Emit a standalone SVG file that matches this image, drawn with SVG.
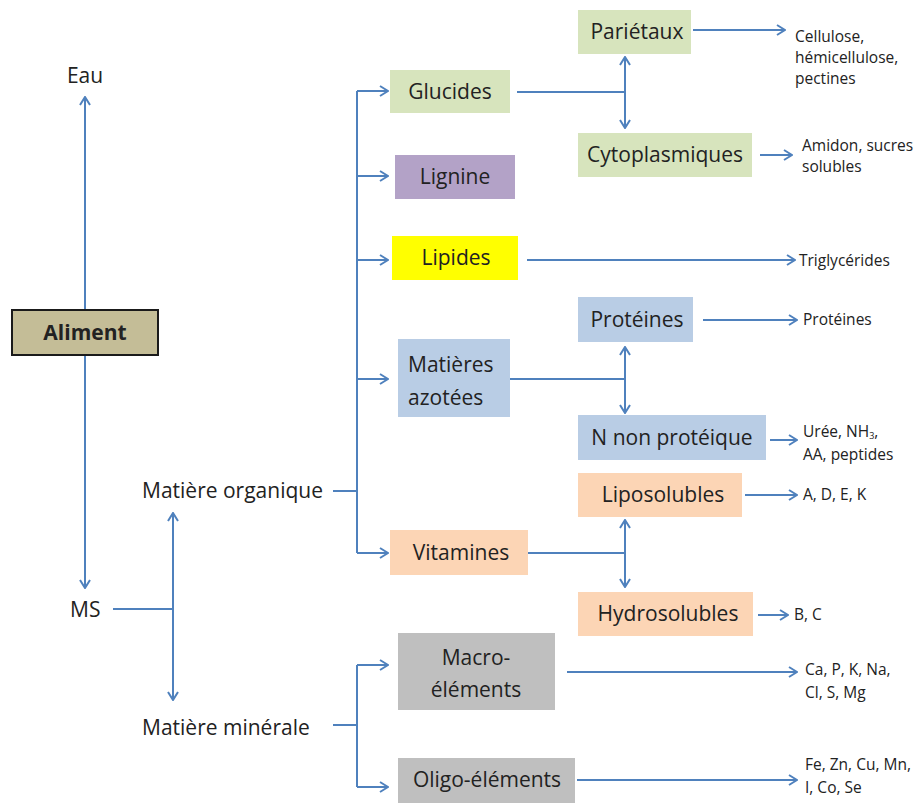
<svg xmlns="http://www.w3.org/2000/svg" width="921" height="803" viewBox="0 0 921 803">
<style>
text{font-family:"Open Sans","Liberation Sans",sans-serif;fill:#222222}
.b{font-size:21px;text-anchor:middle}
.l{font-size:21px}
.s{font-size:15.5px}
.c{fill:none;stroke:#4f81bd;stroke-width:2}
.a{marker-end:url(#ah)}
.d{marker-start:url(#ah);marker-end:url(#ah)}
.green{fill:#d7e4bd}.purple{fill:#b3a2c7}.yellow{fill:#ffff00}.blue{fill:#b9cde5}.orange{fill:#fcd5b5}.gray{fill:#bfbfbf}
</style>
<defs>
<marker id="ah" viewBox="0 0 10 12" refX="9" refY="6" markerWidth="10" markerHeight="12" markerUnits="userSpaceOnUse" orient="auto-start-reverse">
<path d="M1,1 L9,6 L1,11" fill="none" stroke="#4f81bd" stroke-width="2"/>
</marker>
</defs>
<rect width="921" height="803" fill="#ffffff"/>
<g id="connectors">
<line class="c a" x1="85" y1="310" x2="85" y2="97"/>
<line class="c a" x1="85" y1="355" x2="85" y2="588"/>
<line class="c" x1="113" y1="609" x2="173" y2="609"/>
<line class="c d" x1="173" y1="513" x2="173" y2="700"/>
<line class="c" x1="333" y1="491" x2="357" y2="491"/>
<line class="c" x1="357" y1="91" x2="357" y2="553"/>
<line class="c a" x1="357" y1="91" x2="388" y2="91"/>
<line class="c a" x1="357" y1="176" x2="388" y2="176"/>
<line class="c a" x1="357" y1="260" x2="388" y2="260"/>
<line class="c a" x1="357" y1="379" x2="388" y2="379"/>
<line class="c a" x1="357" y1="553" x2="388" y2="553"/>
<line class="c" x1="333" y1="725" x2="357" y2="725"/>
<line class="c" x1="357" y1="665" x2="357" y2="787"/>
<line class="c a" x1="357" y1="665" x2="388" y2="665"/>
<line class="c a" x1="357" y1="787" x2="388" y2="787"/>
<line class="c" x1="517" y1="92" x2="625" y2="92"/>
<line class="c d" x1="625" y1="57" x2="625" y2="128"/>
<line class="c a" x1="693" y1="30" x2="785" y2="30"/>
<line class="c a" x1="760" y1="155" x2="792" y2="155"/>
<line class="c a" x1="527" y1="260" x2="795" y2="260"/>
<line class="c" x1="510" y1="379" x2="625" y2="379"/>
<line class="c d" x1="625" y1="347" x2="625" y2="413"/>
<line class="c a" x1="703" y1="320" x2="797" y2="320"/>
<line class="c a" x1="770" y1="440" x2="797" y2="440"/>
<line class="c" x1="528" y1="553" x2="625" y2="553"/>
<line class="c d" x1="625" y1="520" x2="625" y2="587"/>
<line class="c a" x1="745" y1="495" x2="797" y2="495"/>
<line class="c a" x1="758" y1="615" x2="788" y2="615"/>
<line class="c a" x1="567" y1="672" x2="797" y2="672"/>
<line class="c a" x1="577" y1="780" x2="797" y2="780"/>
</g>
<g id="aliment"><rect x="12" y="310" width="146" height="45" fill="#c4bd97" stroke="#1a1a1a" stroke-width="2"/><text class="b" x="85" y="340" font-weight="bold">Aliment</text></g>
<g id="eau"><text class="l" x="85" y="83" text-anchor="middle">Eau</text></g>
<g id="ms"><text class="l" x="70" y="617">MS</text></g>
<g id="mo"><text class="l" x="142" y="498">Matière organique</text></g>
<g id="mm"><text class="l" x="142" y="735">Matière minérale</text></g>
<g id="glucides"><rect class="green" x="390" y="70" width="120" height="43"/><text class="b" x="450" y="99">Glucides</text></g>
<g id="lignine"><rect class="purple" x="395" y="155" width="120" height="44"/><text class="b" x="455" y="184">Lignine</text></g>
<g id="lipides"><rect class="yellow" x="392" y="236" width="126" height="44"/><text class="b" x="456" y="265">Lipides</text></g>
<g id="azotees"><rect class="blue" x="398" y="339" width="112" height="78"/><text class="l" x="408" y="372">Matières</text><text class="l" x="408" y="405">azotées</text></g>
<g id="vitamines"><rect class="orange" x="390" y="530" width="138" height="45"/><text class="b" x="461" y="560">Vitamines</text></g>
<g id="macro"><rect class="gray" x="398" y="633" width="157" height="77"/><text class="b" x="476" y="665">Macro-</text><text class="b" x="476" y="697">éléments</text></g>
<g id="oligo"><rect class="gray" x="398" y="758" width="177" height="45"/><text class="b" x="487" y="787">Oligo-éléments</text></g>
<g id="parietaux"><rect class="green" x="578" y="10" width="113" height="44"/><text class="b" x="637" y="39">Pariétaux</text></g>
<g id="cyto"><rect class="green" x="578" y="133" width="174" height="44"/><text class="b" x="665" y="162">Cytoplasmiques</text></g>
<g id="proteines"><rect class="blue" x="578" y="297" width="115" height="45"/><text class="b" x="637" y="327">Protéines</text></g>
<g id="npn"><rect class="blue" x="578" y="415" width="188" height="45"/><text class="b" x="672" y="445">N non protéique</text></g>
<g id="lipo"><rect class="orange" x="578" y="473" width="164" height="44"/><text class="b" x="663" y="502">Liposolubles</text></g>
<g id="hydro"><rect class="orange" x="578" y="592" width="175" height="44"/><text class="b" x="668" y="621">Hydrosolubles</text></g>
<g id="leaves">
<text class="s" x="795" y="42">Cellulose,</text>
<text class="s" x="795" y="63">hémicellulose,</text>
<text class="s" x="795" y="84">pectines</text>
<text class="s" x="802" y="151">Amidon, sucres</text>
<text class="s" x="802" y="172">solubles</text>
<text class="s" x="799" y="266">Triglycérides</text>
<text class="s" x="803" y="325">Protéines</text>
<text class="s" x="803" y="437">Urée, NH<tspan font-size="9" dy="2">3</tspan><tspan dy="-2">,</tspan></text>
<text class="s" x="803" y="460">AA, peptides</text>
<text class="s" x="803" y="500">A, D, E, K</text>
<text class="s" x="794" y="620">B, C</text>
<text class="s" x="805" y="675">Ca, P, K, Na,</text>
<text class="s" x="805" y="698">Cl, S, Mg</text>
<text class="s" x="805" y="770">Fe, Zn, Cu, Mn,</text>
<text class="s" x="805" y="793">I, Co, Se</text>
</g>
</svg>
